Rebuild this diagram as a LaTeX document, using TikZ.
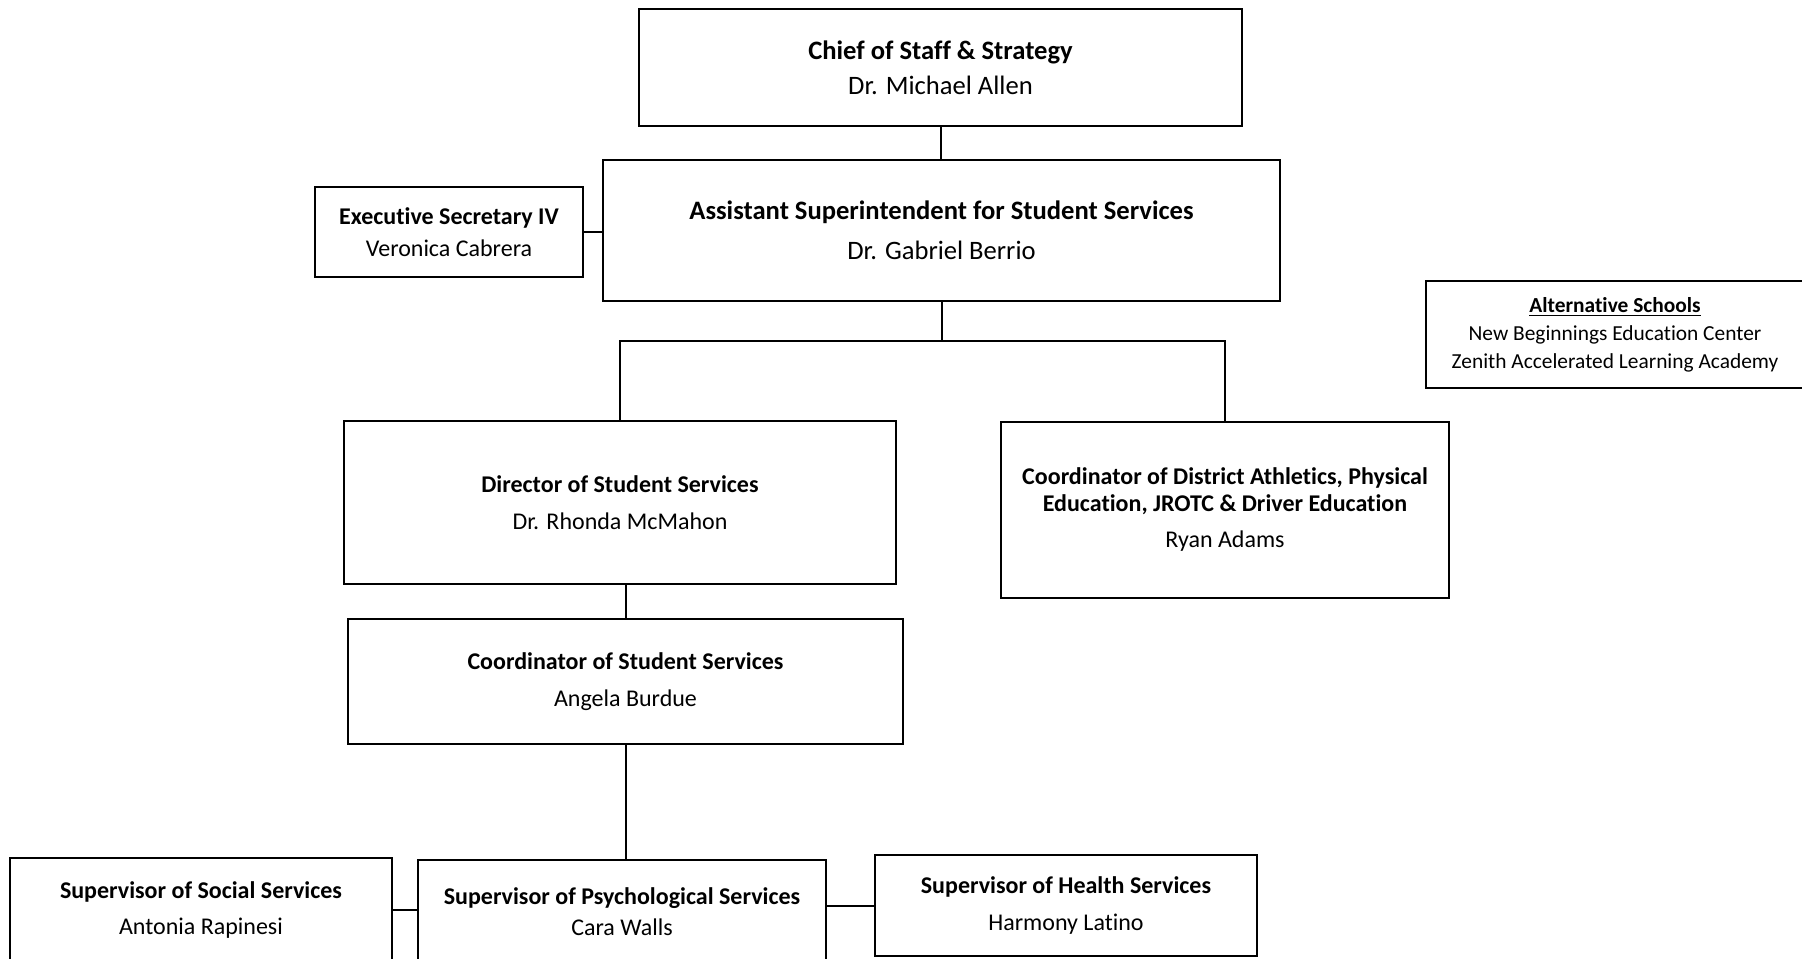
\documentclass[tikz,border=0pt]{standalone}
\usepackage{fontspec}
\setmainfont{Carlito}[Ligatures=NoCommon]

\newcommand{\bigfont}{\fontsize{13.3}{16}\selectfont}
\newcommand{\midfont}{\fontsize{12}{13.5}\selectfont}
\newcommand{\smallfont}{\fontsize{10.7}{14}\selectfont}

\tikzset{
  orgbox/.style={draw, line width=1pt, align=center, inner sep=0pt, outer sep=0pt, font=\midfont},
  link/.style={line width=1pt}
}

\begin{document}
\begin{tikzpicture}[x=0.5pt, y=-0.5pt]
\clip (0,0) rectangle (1802,958);
\node [orgbox, font=\bigfont, minimum width=301.5pt, minimum height=58.5pt] (chief) at (940.5,67.5) {\textbf{Chief of Staff \& Strategy}\\[1.5pt] Dr. Michael Allen};
\node [orgbox, font=\bigfont, minimum width=338.5pt, minimum height=70.5pt] (asst) at (941.5,230.5) {\textbf{Assistant Superintendent for Student Services}\\[4pt] Dr. Gabriel Berrio};
\node [orgbox, minimum width=134pt, minimum height=45pt] (exec) at (449,232) {\textbf{Executive Secretary IV}\\[2.5pt] Veronica Cabrera};
\node [orgbox, font=\smallfont, minimum width=189pt, minimum height=53.5pt] (alt) at (1615,334.5) {\textbf{\underline{Alternative Schools}}\\ New Beginnings Education Center\\ Zenith Accelerated Learning Academy};
\node [orgbox, minimum width=276pt, minimum height=81.5pt] (dir) at (620,502.5) {\textbf{Director of Student Services}\\[5pt] Dr. Rhonda McMahon};
\node [orgbox, minimum width=224pt, minimum height=88pt] (ath) at (1225,510) {\textbf{Coordinator of District Athletics, Physical}\\ \textbf{Education, JROTC \& Driver Education}\\[4.5pt] Ryan Adams};
\node [orgbox, minimum width=277.5pt, minimum height=62.5pt] (coord) at (625.5,681.5) {\textbf{Coordinator of Student Services}\\[5pt] Angela Burdue};
\node [orgbox, minimum width=191pt, minimum height=52pt] (social) at (201,910) {\textbf{Supervisor of Social Services}\\[4.5pt] Antonia Rapinesi};
\node [orgbox, minimum width=204pt, minimum height=52pt] (psych) at (622,912) {\textbf{Supervisor of Psychological Services}\\[2pt] Cara Walls};
\node [orgbox, minimum width=191pt, minimum height=50.5pt] (health) at (1066,905.5) {\textbf{Supervisor of Health Services}\\[5pt] Harmony Latino};
\coordinate (split) at (941.5,341);
\draw [link] (chief.south) -- (chief.south |- asst.north);
\draw [link] (exec.east) -- (exec.east -| asst.west);
\draw [link] (asst.south) -- (split);
\draw [link] (dir.north) |- (split) -| (ath.north);
\draw [link] (coord.north) -- (coord.north |- dir.south);
\draw [link] (coord.south) -- (coord.south |- psych.north);
\draw [link] (social.east) -- (social.east -| psych.west);
\draw [link] (health.west) -- (health.west -| psych.east);
\end{tikzpicture}
\end{document}
